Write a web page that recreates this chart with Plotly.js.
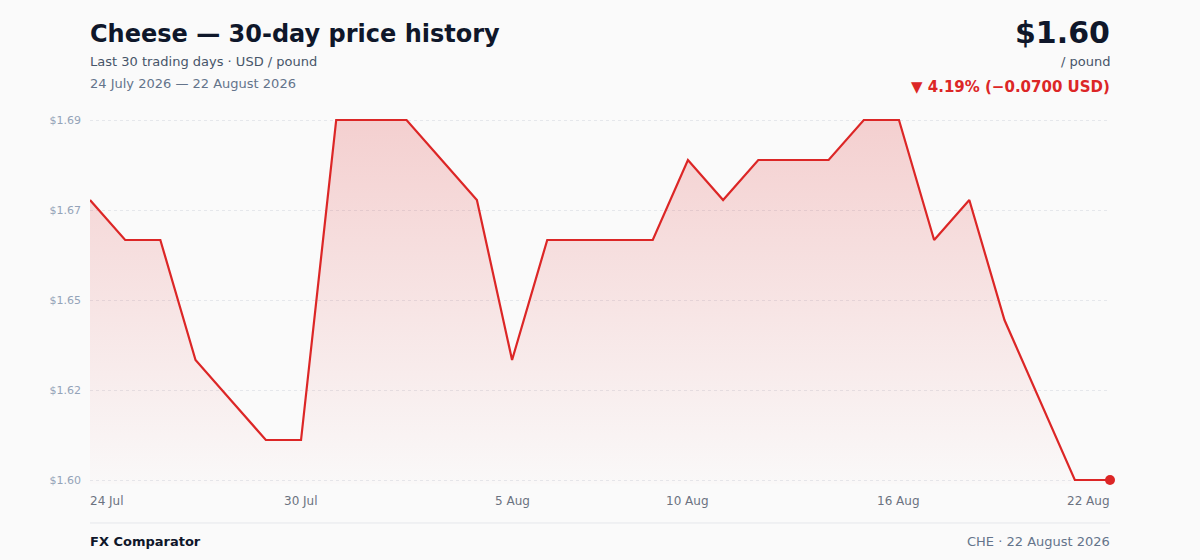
<!DOCTYPE html>
<html>
<head>
<meta charset="utf-8">
<script src="https://cdn.plot.ly/plotly-3.0.1.min.js"></script>
<style>
  html, body { margin: 0; padding: 0; background: #fafafa; }
  #chart { width: 1200px; height: 560px; }
</style>
</head>
<body>
<div id="chart"></div>
<script>
// 30 consecutive days, 24 Jul - 22 Aug 2026
const days = [
  "2026-07-24", "2026-07-25", "2026-07-26", "2026-07-27", "2026-07-28",
  "2026-07-29", "2026-07-30", "2026-07-31", "2026-08-01", "2026-08-02",
  "2026-08-03", "2026-08-04", "2026-08-05", "2026-08-06", "2026-08-07",
  "2026-08-08", "2026-08-09", "2026-08-10", "2026-08-11", "2026-08-12",
  "2026-08-13", "2026-08-14", "2026-08-15", "2026-08-16", "2026-08-17",
  "2026-08-18", "2026-08-19", "2026-08-20", "2026-08-21", "2026-08-22"
];
const prices = [
  1.67, 1.66, 1.66, 1.63, 1.62, 1.61, 1.61, 1.69, 1.69, 1.69,
  1.68, 1.67, 1.63, 1.66, 1.66, 1.66, 1.66, 1.68, 1.67, 1.68,
  1.68, 1.68, 1.69, 1.69, 1.66, 1.67, 1.64, 1.62, 1.60, 1.60
];
const xTickDays = ["2026-07-24", "2026-07-30", "2026-08-05", "2026-08-10", "2026-08-16", "2026-08-22"];
const xTickText = ["24 Jul", "30 Jul", "5 Aug", "10 Aug", "16 Aug", "22 Aug"];
const yTickVals = [1.60, 1.6225, 1.645, 1.6675, 1.69];
const yTickText = ["$1.60", "$1.62", "$1.65", "$1.67", "$1.69"];

const red = "#dc2626";
const font = "DejaVu Sans, sans-serif";

const yMin = 1.60, yMax = 1.69;
const pad = (yMax - yMin) * 4 / 360;

const last = prices[prices.length - 1];
const first = prices[0];
const diff = last - first;
const pct = Math.abs(diff / first * 100);

var traces = [
  {
    x: days,
    y: prices,
    type: "scatter",
    mode: "lines",
    line: { color: red, width: 2.2 },
    fill: "tozeroy",
    fillgradient: {
      type: "vertical",
      start: yMin,
      stop: yMax,
      colorscale: [[0, "rgba(220,38,38,0.01)"], [1, "rgba(220,38,38,0.2)"]],
    },
    hoverinfo: "x+y",
  },
  {
    x: [days[days.length - 1]],
    y: [last],
    type: "scatter",
    mode: "markers",
    marker: { color: red, size: 10 },
    cliponaxis: false,
    hoverinfo: "skip",
  },
];

var annotations = [
  { text: "<b>Cheese — 30-day price history</b>", x: 0, y: 34, xanchor: "left", size: 24, color: "#0f172a" },
  { text: "Last 30 trading days · USD / pound", x: 0, y: 61, xanchor: "left", size: 13, color: "#475569" },
  { text: "24 July 2026 — 22 August 2026", x: 0, y: 83, xanchor: "left", size: 13, color: "#64748b" },
  { text: "<b>$" + last.toFixed(2) + "</b>", x: 1, y: 32, xanchor: "right", size: 30, color: "#0f172a" },
  { text: "/ pound", x: 1, y: 61, xanchor: "right", size: 13, color: "#475569" },
  { text: "<b>▼ " + pct.toFixed(2) + "% (−" + Math.abs(diff).toFixed(4) + " USD)</b>", x: 1, y: 87, xanchor: "right", size: 15, color: red },
  { text: "<b>FX Comparator</b>", x: 0, y: 541, xanchor: "left", size: 13, color: "#0f172a" },
  { text: "CHE · 22 August 2026", x: 1, y: 541, xanchor: "right", size: 13, color: "#64748b" },
].map(function (a) {
  return {
    text: a.text,
    xref: "paper", yref: "paper",
    x: a.x, y: (484 - a.y) / 368,
    xanchor: a.xanchor, yanchor: "middle",
    showarrow: false,
    borderpad: 0, borderwidth: 0,
    font: { family: font, size: a.size, color: a.color },
  };
});

xTickDays.forEach(function (d, i) {
  annotations.push({
    text: xTickText[i],
    xref: "x", yref: "paper",
    x: d, y: (484 - 501) / 368,
    xanchor: i === 0 ? "left" : (i === xTickDays.length - 1 ? "right" : "center"),
    yanchor: "middle",
    showarrow: false,
    borderpad: 0, borderwidth: 0,
    font: { family: font, size: 12, color: "#6b7280" },
  });
});

var layout = {
  width: 1200,
  height: 560,
  margin: { t: 116, b: 76, l: 90, r: 90 },
  paper_bgcolor: "#fafafa",
  plot_bgcolor: "rgba(0,0,0,0)",
  showlegend: false,
  font: { family: font },
  xaxis: {
    type: "date",
    range: [days[0], days[days.length - 1]],
    showgrid: false,
    zeroline: false,
    showline: false,
    showticklabels: false,
    ticks: "",
    fixedrange: true,
  },
  yaxis: {
    range: [yMin - pad, yMax + pad],
    tickvals: yTickVals,
    ticktext: yTickText,
    tickfont: { family: font, size: 11, color: "#94a3b8" },
    ticks: "",
    ticklabelstandoff: 8,
    showgrid: true,
    gridcolor: "#e5e7eb",
    griddash: "dot",
    gridwidth: 1,
    zeroline: false,
    showline: false,
    fixedrange: true,
  },
  shapes: [
    {
      type: "line",
      xref: "paper", yref: "paper",
      x0: 0, x1: 1,
      y0: (484 - 523) / 368, y1: (484 - 523) / 368,
      line: { color: "#e5e7eb", width: 1 },
    },
  ],
  annotations: annotations,
};

var config = {
  responsive: false,
  displayModeBar: false,
};

Plotly.newPlot("chart", traces, layout, config);
</script>
</body>
</html>
